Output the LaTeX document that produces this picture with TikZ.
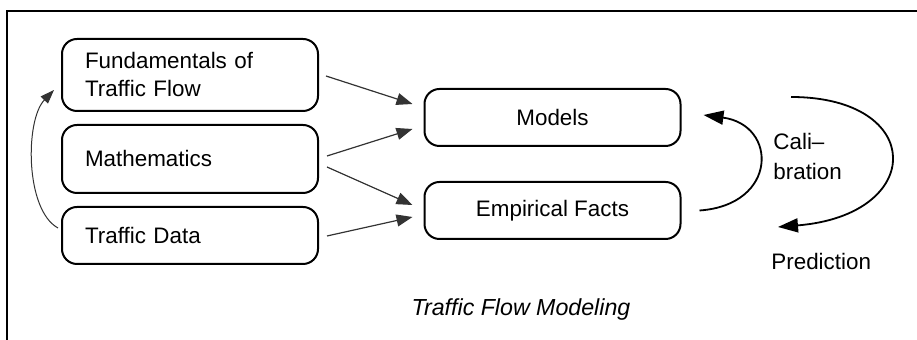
\documentclass[tikz,border=0pt]{standalone}
\usepackage{fontspec}
\setmainfont{Liberation Sans}
\usetikzlibrary{arrows.meta,calc}
\tikzset{
  box/.style={draw, line width=1pt, rounded corners=7.5pt, minimum width=128pt, inner xsep=11.5pt, inner ysep=0pt, font=\fontsize{11.2}{14}\selectfont},
  leftbox/.style={box, text width=105pt, align=left},
  thinarrow/.style={line width=0.6pt, draw=black!80, -{Triangle[length=8pt,width=6pt]}},
  loop/.style={line width=0.9pt, -{Triangle[length=10pt,width=7pt]}},
  lbl/.style={inner sep=0pt, anchor=west, align=left, font=\fontsize{11.2}{15}\selectfont},
}
\begin{document}
\begin{tikzpicture}[x=0.5pt,y=-0.5pt]
\useasboundingbox (0,0) rectangle (917,340);
% frame
\draw[line width=1pt] (917,11) -- (7,11) -- (7,340);
% left boxes
\node[leftbox, minimum height=36pt] (fund) at (190,75) {Fundamentals of\\Traffic Flow};
\node[leftbox, minimum height=34pt] (math) at (190,159) {Mathematics};
\node[leftbox, minimum height=28.5pt] (data) at (190,235.5) {Traffic Data};
% right boxes
\node[box, minimum height=28.5pt] (models) at (552.5,117.5) {Models};
\node[box, minimum height=28.5pt] (emp) at (552.5,210.5) {Empirical Facts};
% straight arrows
\draw[thinarrow] ([xshift=3.5pt,yshift=-0.5pt]fund.east) -- ([xshift=-5.5pt,yshift=6.75pt]models.west);
\draw[thinarrow] ([xshift=4pt,yshift=1.5pt]math.east) -- ([xshift=-5.5pt,yshift=-5.75pt]models.west);
\draw[thinarrow] ([xshift=4pt,yshift=-4pt]math.east) -- ([xshift=-5.5pt,yshift=2.75pt]emp.west);
\draw[thinarrow] ([xshift=4pt,yshift=-0.25pt]data.east) -- ([xshift=-5.5pt,yshift=-3.25pt]emp.west);
% left curved arrow
\draw[line width=0.5pt, draw=black!80, -{Triangle[length=7pt,width=5pt]}]
  ([xshift=-1.5pt,yshift=3.75pt]data.west) .. controls (25,210) and (25,120) .. ([xshift=-3.5pt,yshift=-7.5pt]fund.west);
% calibration arrow
\draw[loop] ([xshift=9pt]emp.east) .. controls (778,205) and (778,125) .. ([xshift=11pt,yshift=1.25pt]models.east);
% prediction arrow
\coordinate (pstart) at (791,97);
\coordinate (pend) at (778,227);
\draw[loop] (pstart) .. controls (926,97) and (926,215) .. (pend);
% labels
\node[lbl] (cal) at (773,157) {Cali–\\bration};
\node[lbl] (pred) at (771,262) {Prediction};
\node[inner sep=0pt, font=\fontsize{11.6}{14}\selectfont\itshape] (cap) at (521,310) {Traffic Flow Modeling};
\end{tikzpicture}
\end{document}
